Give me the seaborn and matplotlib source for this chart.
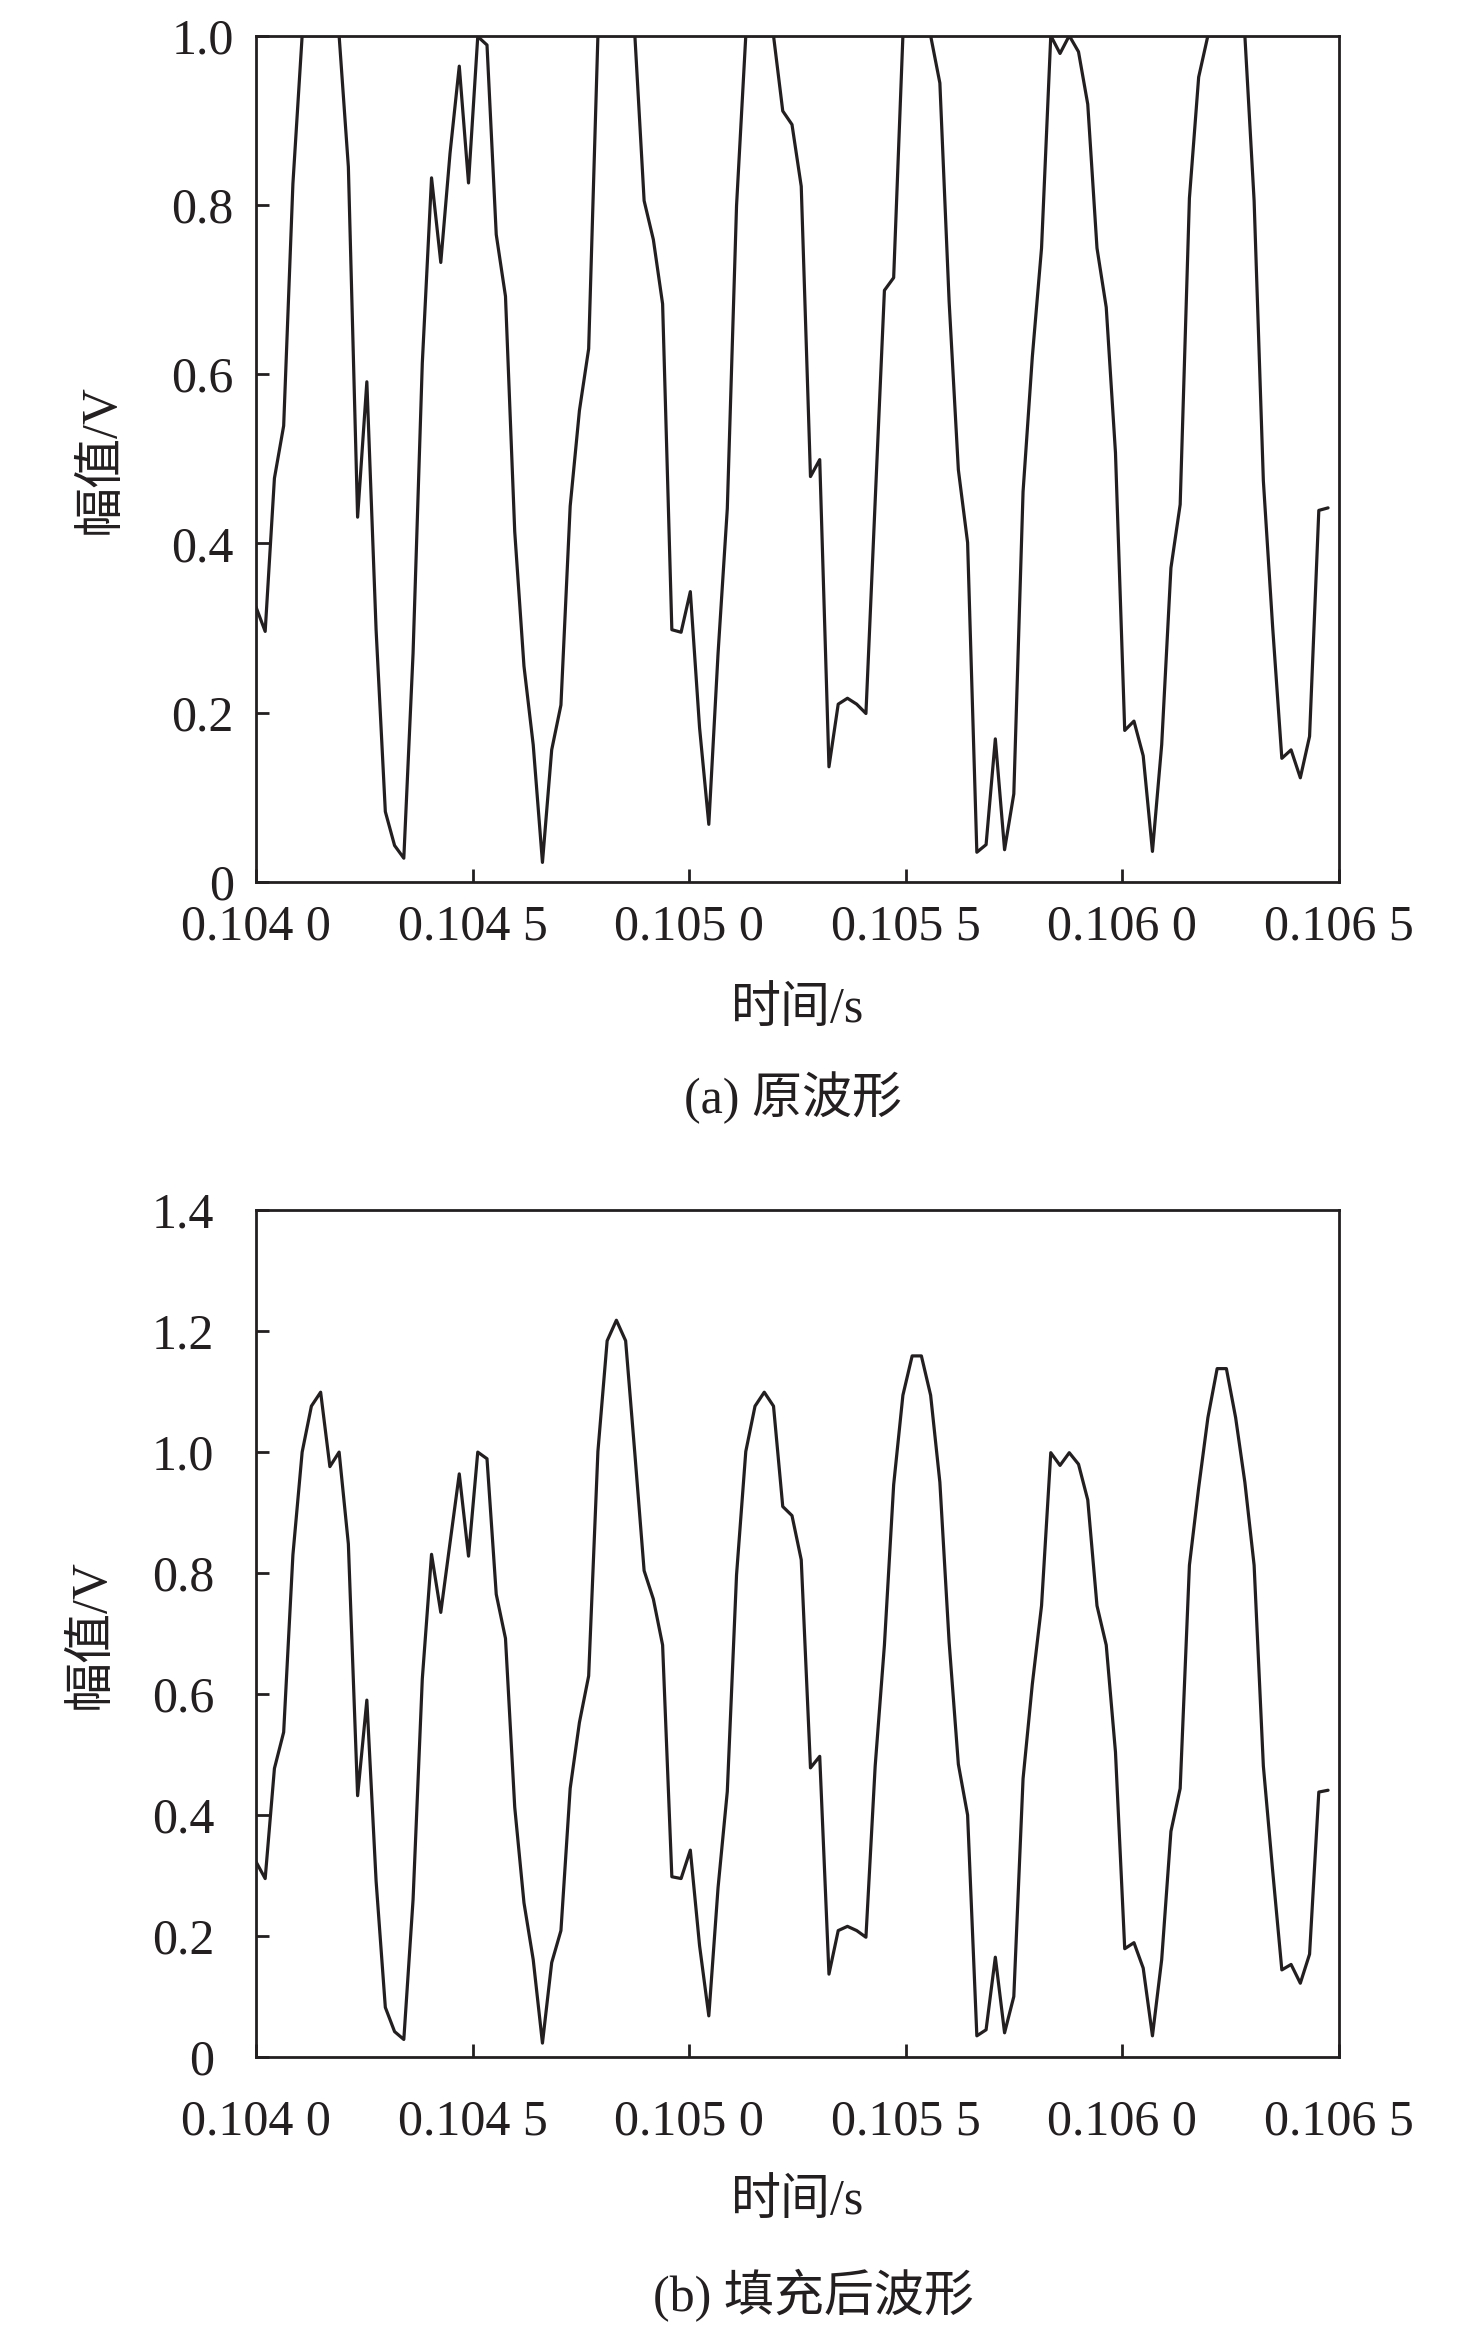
import numpy as np
import matplotlib
matplotlib.use("Agg")
import matplotlib.pyplot as plt
from matplotlib.ticker import FuncFormatter
import seaborn as sns

# ----------------- DATA -----------------
# samples n / fs, fs = 46875 Hz, n = 4875 ... 4991
fs = 46875.0
sample_idx = np.arange(4875, 4992)
time_s = sample_idx / fs

# (a) original (clipped at 1.0 V)
orig_wave = [
    0.325, 0.296, 0.477, 0.539, 0.825, 1.000, 1.000, 1.000, 1.000, 1.000,
    0.845, 0.431, 0.591, 0.298, 0.083, 0.043, 0.028, 0.270, 0.613, 0.832,
    0.732, 0.861, 0.964, 0.826, 0.999, 0.989, 0.765, 0.692, 0.414, 0.255,
    0.162, 0.023, 0.156, 0.209, 0.444, 0.557, 0.630, 1.000, 1.000, 1.000,
    1.000, 1.000, 0.805, 0.759, 0.683, 0.298, 0.295, 0.343, 0.182, 0.068,
    0.270, 0.441, 0.799, 1.000, 1.000, 1.000, 1.000, 0.911, 0.895, 0.822,
    0.479, 0.499, 0.136, 0.210, 0.217, 0.210, 0.199, 0.450, 0.699, 0.714,
    1.000, 1.000, 1.000, 1.000, 0.944, 0.686, 0.487, 0.401, 0.035, 0.044,
    0.169, 0.038, 0.104, 0.461, 0.620, 0.749, 1.000, 0.979, 1.000, 0.981,
    0.919, 0.749, 0.679, 0.507, 0.179, 0.190, 0.149, 0.036, 0.162, 0.371,
    0.446, 0.808, 0.951, 1.000, 1.000, 1.000, 1.000, 1.000, 0.805, 0.474,
    0.302, 0.146, 0.156, 0.123, 0.172, 0.439, 0.442,
]

# (b) after filling the clipped peaks
filled_wave = [
    0.323, 0.295, 0.477, 0.537, 0.830, 1.000, 1.076, 1.099, 0.976, 1.000,
    0.848, 0.432, 0.590, 0.291, 0.082, 0.042, 0.029, 0.260, 0.625, 0.831,
    0.735, 0.850, 0.964, 0.828, 1.000, 0.989, 0.765, 0.692, 0.413, 0.255,
    0.161, 0.023, 0.156, 0.209, 0.444, 0.553, 0.630, 1.001, 1.184, 1.218,
    1.184, 0.997, 0.804, 0.757, 0.681, 0.298, 0.295, 0.342, 0.184, 0.068,
    0.280, 0.439, 0.797, 1.001, 1.076, 1.099, 1.076, 0.910, 0.895, 0.822,
    0.478, 0.497, 0.137, 0.209, 0.216, 0.209, 0.198, 0.481, 0.681, 0.946,
    1.094, 1.159, 1.159, 1.094, 0.950, 0.686, 0.484, 0.400, 0.035, 0.045,
    0.165, 0.040, 0.100, 0.460, 0.616, 0.746, 0.999, 0.978, 0.999, 0.980,
    0.921, 0.746, 0.681, 0.504, 0.179, 0.189, 0.147, 0.035, 0.161, 0.373,
    0.444, 0.813, 0.941, 1.057, 1.138, 1.138, 1.057, 0.950, 0.813, 0.481,
    0.309, 0.144, 0.153, 0.122, 0.170, 0.438, 0.441,
]

x_ticks = [0.1040, 0.1045, 0.1050, 0.1055, 0.1060, 0.1065]
y_ticks_a = [0, 0.2, 0.4, 0.6, 0.8, 1.0]
y_ticks_b = [0, 0.2, 0.4, 0.6, 0.8, 1.0, 1.2, 1.4]

xlabel = "时间/s"
ylabel = "幅值/V"
captions = ["(a) 原波形", "(b) 填充后波形"]

# ----------------- STYLE -----------------
sns.set_style("ticks")
plt.rcParams['font.family'] = ['Liberation Serif', 'Noto Sans CJK SC']
plt.rcParams['axes.unicode_minus'] = False
ink = '#231f20'
fsize = 36


def fmt_x(v, pos):
    s = f"{v:.4f}"
    return s[:-1] + " " + s[-1]


def fmt_y(v, pos):
    return "0" if abs(v) < 1e-9 else f"{v:.1f}"


fig = plt.figure(figsize=(14.76, 23.33), dpi=100)
ax_a = fig.add_axes([0.1734, 0.6220, 0.7338, 0.3627])
ax_b = fig.add_axes([0.1734, 0.1183, 0.7338, 0.3630])

panels = [
    (ax_a, orig_wave, y_ticks_a, 16, -0.151, -0.143, 0.5294),
    (ax_b, filled_wave, y_ticks_b, 30, -0.171, -0.152, 0.0159),
]

for i, (ax, wave, yt, pad, xl_y, yl_x, cap_y) in enumerate(panels):
    sns.lineplot(x=time_s, y=wave, ax=ax, color=ink, linewidth=2.3, estimator=None)
    ax.set_xlim(x_ticks[0], x_ticks[-1])
    ax.set_ylim(yt[0], yt[-1])
    ax.set_xticks(x_ticks)
    ax.set_yticks(yt)
    ax.xaxis.set_major_formatter(FuncFormatter(fmt_x))
    ax.yaxis.set_major_formatter(FuncFormatter(fmt_y))
    ax.tick_params(axis='both', direction='in', length=9.5, width=2, colors=ink,
                   labelsize=fsize, labelcolor=ink, pad=pad,
                   top=False, right=False)
    for sp in ax.spines.values():
        sp.set_linewidth(2)
        sp.set_color(ink)
        sp.set_visible(True)

    ax.set_xlabel(xlabel, fontsize=fsize, color=ink)
    ax.xaxis.label.set_va('center')
    ax.xaxis.set_label_coords(0.5, xl_y)
    ax.set_ylabel(ylabel, fontsize=fsize, color=ink)
    ax.yaxis.label.set_va('center')
    ax.yaxis.set_label_coords(yl_x, 0.5)

    fig.text(0.5 + (0.537 - 0.5 if i == 0 else 0.551 - 0.5), cap_y, captions[i],
             fontsize=fsize, color=ink, ha='center', va='center')

fig.savefig("out.png", dpi=100, facecolor='white')
plt.close(fig)
